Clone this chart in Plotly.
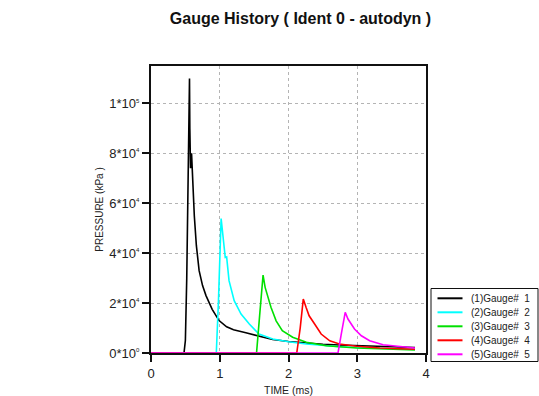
import plotly.graph_objects as go

# ---- data (time in ms, pressure in kPa) ----
g1_t = [0.0, 0.48, 0.50, 0.52, 0.545, 0.56, 0.565, 0.575, 0.59, 0.61, 0.63, 0.66, 0.70, 0.75, 0.80, 0.89, 0.99, 1.10, 1.20, 1.38, 1.60, 1.77, 2.00, 2.26, 2.50, 2.74, 3.00, 3.40, 3.84]
g1_p = [0, 0, 5000, 30000, 80000, 110000, 90000, 74000, 80000, 65000, 55000, 43000, 33000, 27000, 23000, 17500, 13000, 10500, 9300, 8100, 6500, 5400, 4600, 4000, 3500, 3200, 2900, 2600, 2200]

g2_t = [0.0, 0.95, 0.98, 1.02, 1.035, 1.06, 1.08, 1.10, 1.135, 1.21, 1.31, 1.43, 1.57, 1.77, 2.00, 2.26, 2.74, 3.23, 3.84]
g2_p = [0, 0, 20000, 53900, 50000, 43000, 38300, 38500, 29000, 21000, 15600, 11600, 7600, 5600, 4500, 3600, 2500, 2000, 1500]

g3_t = [0.0, 1.535, 1.58, 1.63, 1.66, 1.695, 1.745, 1.82, 1.91, 2.06, 2.26, 2.55, 2.99, 3.84]
g3_p = [0, 0, 15000, 31200, 26300, 23000, 18300, 12900, 8900, 6300, 4300, 2900, 2000, 1200]

g4_t = [0.0, 2.12, 2.17, 2.215, 2.255, 2.30, 2.38, 2.475, 2.60, 2.74, 2.99, 3.33, 3.84]
g4_p = [0, 0, 10000, 21600, 18300, 14900, 11600, 7600, 4900, 3600, 2700, 2000, 1500]

g5_t = [0.0, 2.72, 2.77, 2.825, 2.865, 2.91, 2.96, 3.06, 3.18, 3.375, 3.62, 3.84]
g5_p = [0, 0, 8000, 16300, 13600, 11600, 9600, 6900, 4900, 3300, 2500, 2000]

names = ["(1)Gauge#  1", "(2)Gauge#  2", "(3)Gauge#  3", "(4)Gauge#  4", "(5)Gauge#  5"]
colors = ["#000000", "#00FFFF", "#00E000", "#FF0000", "#FF00FF"]

sup = "<sup><span style='font-size:6px'>{}</span></sup>"
y_tickvals = [0, 20000, 40000, 60000, 80000, 100000]
y_ticktext = ["0*10" + sup.format(0), "2*10" + sup.format(4), "4*10" + sup.format(4),
              "6*10" + sup.format(4), "8*10" + sup.format(4), "1*10" + sup.format(5)]
x_tickvals = [0, 1, 2, 3, 4]
x_ticktext = ["0", "1", "2", "3", "4"]

series = [(g1_t, g1_p), (g2_t, g2_p), (g3_t, g3_p), (g4_t, g4_p), (g5_t, g5_p)]

W, H = 539, 396
L, R, T, B = 151, 113, 66, 43
pw, ph = W - L - R, H - T - B

def px_x(x):
    return (x - L) / pw

def px_y(y):
    return (H - B - y) / ph

fig = go.Figure()
for (t, p), n, c in zip(series, names, colors):
    fig.add_trace(go.Scatter(x=t, y=p, mode="lines", name=n, showlegend=False,
                             line=dict(color=c, width=1.6)))

font_family = "Liberation Sans, Arial, sans-serif"

# legend box drawn in paper coordinates
shapes = [dict(type="rect", xref="paper", yref="paper",
               x0=px_x(431), x1=px_x(538), y0=px_y(361.5), y1=px_y(288.5),
               line=dict(color="#111111", width=1), fillcolor="white", layer="above")]
annotations = []
row_y0, row_dy = 298.3, 14.0
for i, (n, c) in enumerate(zip(names, colors)):
    yy = row_y0 + i * row_dy
    shapes.append(dict(type="line", xref="paper", yref="paper",
                       x0=px_x(437.5), x1=px_x(462.5), y0=px_y(yy), y1=px_y(yy),
                       line=dict(color=c, width=2), layer="above"))
    annotations.append(dict(text=n, xref="paper", yref="paper",
                            x=px_x(468.5), y=px_y(yy), xanchor="left", yanchor="middle",
                            showarrow=False, font=dict(size=10, color="#222222")))

fig.update_layout(
    width=W, height=H,
    margin=dict(l=L, r=R, t=T, b=B),
    paper_bgcolor="white", plot_bgcolor="white",
    font=dict(family=font_family, color="#222222"),
    title=dict(text="<b>Gauge History ( Ident 0 - autodyn )</b>",
               x=300.5 / W, xanchor="center", y=1 - 18 / H, yanchor="middle",
               font=dict(size=16, color="#111111")),
    showlegend=False,
    shapes=shapes,
    annotations=annotations,
    xaxis=dict(range=[0, 4], tickvals=x_tickvals, ticktext=x_ticktext, automargin=False,
               showline=True, linecolor="#111111", linewidth=2, mirror=True,
               ticks="outside", ticklen=7, tickwidth=2, tickcolor="#111111",
               showgrid=True, gridcolor="#B4B4B4", griddash="dot", gridwidth=1,
               zeroline=False, tickfont=dict(size=13),
               title=dict(text="TIME (ms)", font=dict(size=10.5), standoff=9)),
    yaxis=dict(range=[0, 115000], tickvals=y_tickvals, ticktext=y_ticktext, automargin=False,
               showline=True, linecolor="#111111", linewidth=2, mirror=True,
               ticks="outside", ticklen=7, tickwidth=2, tickcolor="#111111",
               showgrid=True, gridcolor="#B4B4B4", griddash="dot", gridwidth=1,
               zeroline=False, tickfont=dict(size=13),
               title=dict(text="PRESSURE (kPa )", font=dict(size=10), standoff=4)),
)

fig.write_html("out.html")
